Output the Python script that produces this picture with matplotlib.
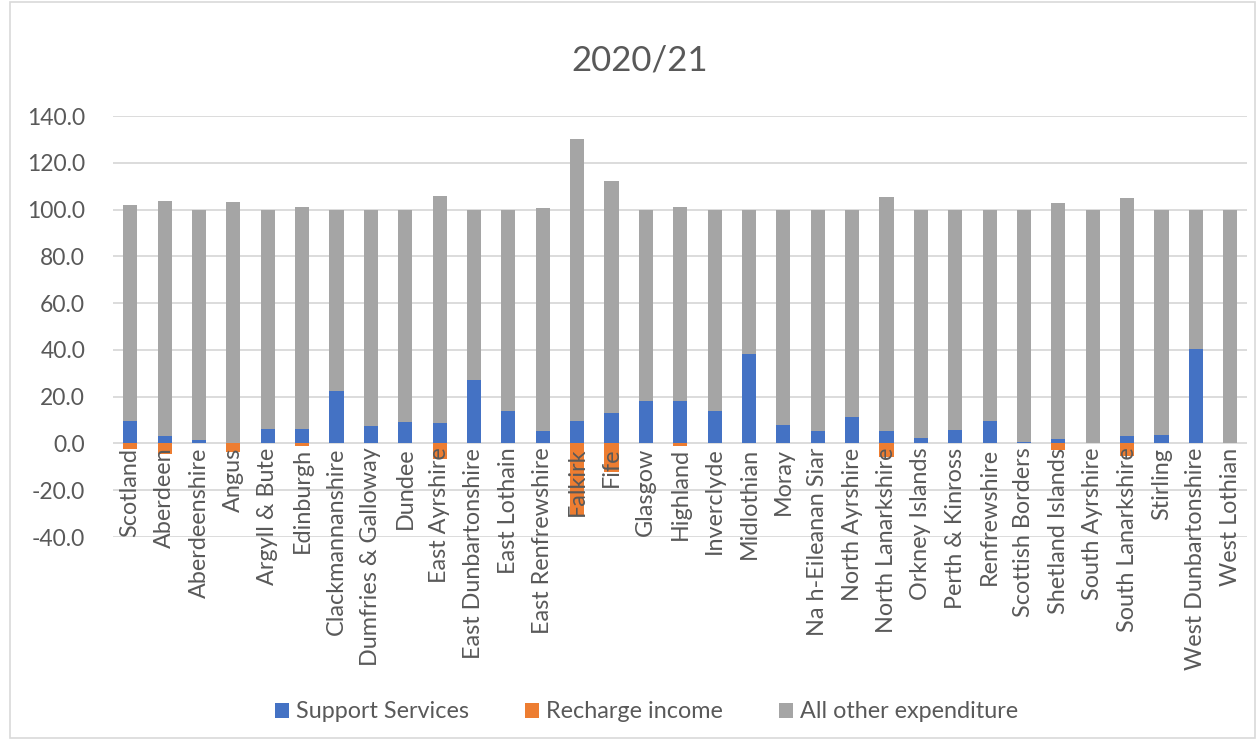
import matplotlib.pyplot as plt
import numpy as np
from matplotlib.patches import Rectangle

plt.rcParams['font.family'] = ['Lato', 'DejaVu Sans']

# council areas, % of spend
councils = ["Scotland", "Aberdeen", "Aberdeenshire", "Angus", "Argyll & Bute",
            "Edinburgh", "Clackmannanshire", "Dumfries & Galloway", "Dundee",
            "East Ayrshire", "East Dunbartonshire", "East Lothain",
            "East Renfrewshire", "Falkirk", "Fife", "Glasgow", "Highland",
            "Inverclyde", "Midlothian", "Moray", "Na h-Eileanan Siar",
            "North Ayrshire", "North Lanarkshire", "Orkney Islands",
            "Perth & Kinross", "Renfrewshire", "Scottish Borders",
            "Shetland Islands", "South Ayrshire", "South Lanarkshire",
            "Stirling", "West Dunbartonshire", "West Lothian"]

support = [9.7, 3.4, 1.3, 0.2, 6.3, 6.3, 22.6, 7.4, 9.1, 8.6, 27.1, 13.7,
           5.3, 9.7, 13.1, 18.1, 18.1, 13.7, 38.4, 8.0, 5.3, 11.4, 5.3, 2.4,
           5.9, 9.7, 0.7, 1.9, 0.0, 3.0, 3.6, 40.6, 0.0]

recharge = [-2.3, -4.3, 0.0, -3.5, 0.0, -1.0, 0.0, 0.0, 0.0, -6.6, 0.0, 0.0,
            0.0, -30.5, -12.3, 0.0, -1.0, 0.0, 0.0, 0.0, 0.0, 0.0, -5.9, 0.0,
            0.0, 0.0, 0.0, -2.8, 0.0, -5.2, 0.0, 0.0, 0.0]

other = [92.4, 100.4, 98.7, 103.1, 93.7, 94.7, 77.4, 92.6, 90.9, 97.4, 72.9,
         86.3, 95.3, 120.5, 99.1, 81.9, 83.0, 86.3, 61.6, 92.0, 94.7, 88.6,
         100.2, 97.6, 94.1, 90.3, 99.3, 100.8, 100.0, 102.0, 96.4, 59.4, 100.0]

BLUE = "#4472C4"
ORANGE = "#ED7D31"
GREY = "#A5A5A5"
TEXT = "#595959"

fig = plt.figure(figsize=(12.6, 7.4), dpi=100)
ax = fig.add_axes([0.0897, 0.2743, 0.9003, 0.5689])

x = np.arange(len(councils))
w = 0.41
ax.bar(x, support, w, color=BLUE, label="Support Services", zorder=2)
ax.bar(x, recharge, w, color=ORANGE, label="Recharge income", zorder=2)
ax.bar(x, other, w, bottom=support, color=GREY, label="All other expenditure", zorder=2)

ax.set_ylim(-40, 140)
ax.set_yticks(np.arange(-40, 141, 20))
ax.set_yticklabels([f"{v:.1f}" for v in np.arange(-40, 141, 20)])
ax.set_xlim(-0.5, len(councils) - 0.5)
ax.set_xticks([])
ax.grid(axis="y", color="#d9d9d9", lw=1.3, zorder=0)
ax.tick_params(axis="y", length=0, labelsize=16.5, labelcolor=TEXT, pad=20)
for s in ax.spines.values():
    s.set_visible(False)

# category names hang from the zero line
for i, name in enumerate(councils):
    ax.annotate(name, (i, 0), xytext=(0, -3), textcoords="offset points",
                rotation=90, ha="center", va="top", fontsize=16.8, color=TEXT,
                zorder=5, annotation_clip=False)

fig.text(0.508, 0.918, "2020/21", ha="center", va="center", fontsize=25, color=TEXT)

fig.legend(loc="center", bbox_to_anchor=(0.513, 0.038), ncol=3, frameon=False,
           fontsize=16.8, labelcolor=TEXT, handlelength=0.6, handleheight=0.6,
           handletextpad=0.3, columnspacing=2.4)

fig.patches.append(Rectangle((0.008, 0.003), 0.988, 0.994, transform=fig.transFigure,
                             fill=False, ec="#d9d9d9", lw=1.2))

fig.savefig("out.png", dpi=100)
